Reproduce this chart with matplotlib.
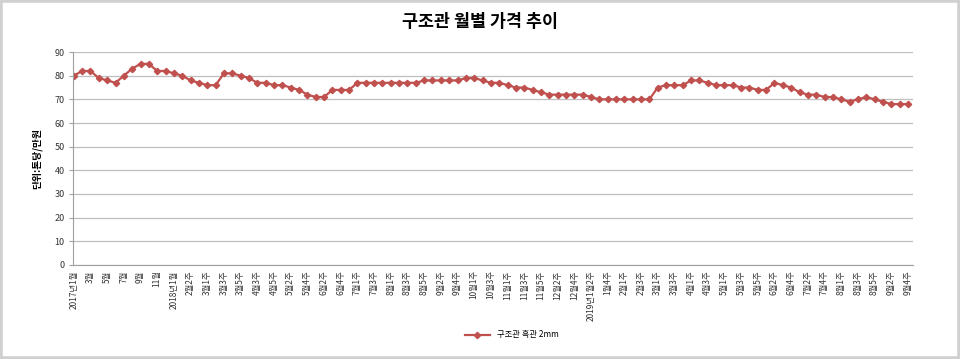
import numpy as np
import matplotlib.pyplot as plt
from matplotlib.patches import Rectangle

plt.rcParams['font.family'] = ['Noto Sans CJK KR', 'DejaVu Sans']

# 구조관 흑관 2mm 가격 (단위: 톤당/만원)
labels = ['2017년1월', '2월', '3월', '4월', '5월', '6월', '7월', '8월', '9월', '10월', '11월', '12월',
          '2018년1월', '2월1주', '2월2주', '2월4주', '3월1주', '3월2주', '3월3주', '3월4주', '3월5주',
          '4월2주', '4월3주', '4월4주', '4월5주', '5월1주', '5월2주', '5월3주', '5월4주',
          '6월1주', '6월2주', '6월3주', '6월4주', '6월5주', '7월1주', '7월2주', '7월3주', '7월4주',
          '8월1주', '8월2주', '8월3주', '8월4주', '8월5주', '9월1주', '9월2주', '9월3주', '9월4주',
          '9월5주', '10월1주', '10월2주', '10월3주', '10월4주', '11월1주', '11월2주', '11월3주',
          '11월4주', '11월5주', '12월1주', '12월2주', '12월3주', '12월4주', '12월5주',
          '2019년1월2주', '1월3주', '1월4주', '1월5주', '2월1주', '2월2주', '2월3주', '2월4주',
          '3월1주', '3월2주', '3월3주', '3월4주', '4월1주', '4월2주', '4월3주', '4월4주',
          '5월1주', '5월2주', '5월3주', '5월4주', '5월5주', '6월1주', '6월2주', '6월3주', '6월4주',
          '7월1주', '7월2주', '7월3주', '7월4주', '7월5주', '8월1주', '8월2주', '8월3주', '8월4주',
          '8월5주', '9월1주', '9월2주', '9월3주', '9월4주']

prices = [80, 82, 82, 79, 78, 77, 80, 83, 85, 85,
          82, 82, 81, 80, 78, 77, 76, 76, 81, 81,
          80, 79, 77, 77, 76, 76, 75, 74, 72, 71,
          71, 74, 74, 74, 77, 77, 77, 77, 77, 77,
          77, 77, 78, 78, 78, 78, 78, 79, 79, 78,
          77, 77, 76, 75, 75, 74, 73, 72, 72, 72,
          72, 72, 71, 70, 70, 70, 70, 70, 70, 70,
          75, 76, 76, 76, 78, 78, 77, 76, 76, 76,
          75, 75, 74, 74, 77, 76, 75, 73, 72, 72,
          71, 71, 70, 69, 70, 71, 70, 69, 68, 68, 68]

series_name = '구조관 흑관 2mm'
color = '#C0504D'

fig = plt.figure(figsize=(9.6, 3.59), dpi=100)
fig.patches.append(Rectangle((0, 0), 1, 1, transform=fig.transFigure,
                             fill=False, edgecolor='#D0D0D0', linewidth=4))

ax = fig.add_axes([0.076, 0.262, 0.875, 0.593])
x = np.arange(len(prices))
ax.plot(x, prices, color=color, linewidth=1.6, marker='D', markersize=3.2,
        markerfacecolor=color, markeredgecolor=color, label=series_name)

ax.set_ylim(0, 90)
ax.set_yticks(range(0, 91, 10))
ax.set_xlim(-0.1, 100.6)
ax.set_xticks(x[::2])
ax.set_xticklabels(labels[::2], rotation=90, fontsize=6, va='top', ha='center')
ax.tick_params(axis='x', length=0, pad=4, colors='#333333')
ax.tick_params(axis='y', length=3, width=0.8, color='#A0A0A0', labelsize=6.5,
               labelcolor='#333333', pad=3)

ax.yaxis.grid(True, color='#BFBFBF', linewidth=0.9)
ax.set_axisbelow(True)
for s in ['top', 'right']:
    ax.spines[s].set_visible(False)
ax.spines['left'].set_color('#A0A0A0')
ax.spines['bottom'].set_color('#A0A0A0')

ax.set_ylabel('단위:톤당/만원', fontsize=7, fontweight='bold', labelpad=9)

fig.text(0.5, 0.938, '구조관 월별 가격 추이', ha='center', va='center',
         fontsize=12.5, fontweight='bold')

fig.legend(loc='center', bbox_to_anchor=(0.533, 0.067), frameon=False,
           fontsize=6, handlelength=3.0, markerscale=1.0)

fig.savefig('out.png', dpi=100)
